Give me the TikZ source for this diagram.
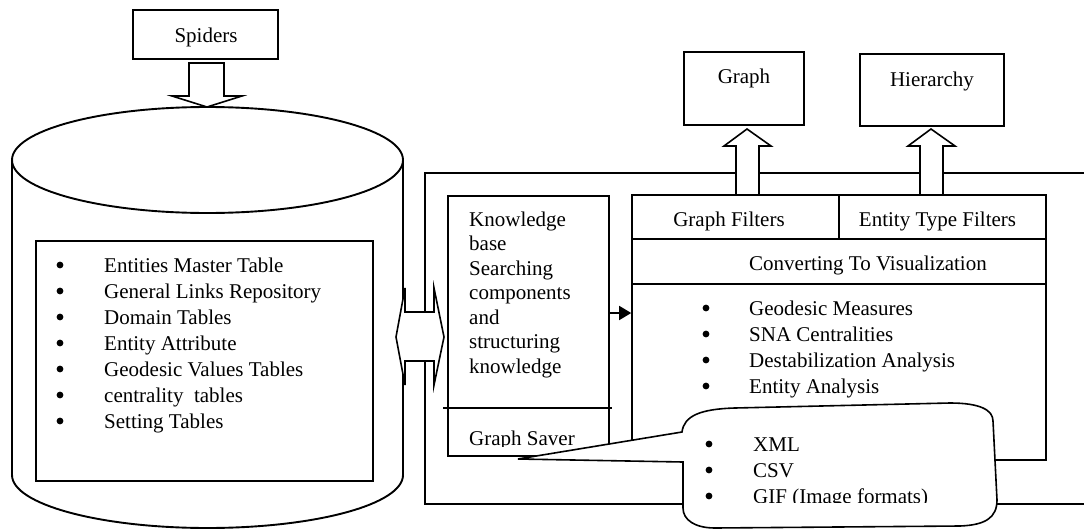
\documentclass[tikz,border=0pt]{standalone}
\usepackage{fontspec}
\setmainfont{Liberation Serif}
\usetikzlibrary{arrows.meta}

\begin{document}
\begin{tikzpicture}[x=1pt,y=-1pt,
  every node/.style={font=\fontsize{21pt}{26pt}\selectfont, inner sep=0pt},
  line/.style={line width=1.6pt},
  cyl/.style={line width=1.9pt},
  box/.style={draw, line width=1.6pt, minimum width=#1},
  txt/.style={anchor=base west},
  ctxt/.style={anchor=base},
  blockarrow/.style={line width=1.6pt, fill=white, line join=miter},
  item/.style={anchor=base west},
  dot/.style={fill=black},
]
\useasboundingbox (0,0) rectangle (1084,530);

% outer frame of the application layer (open to the right)
\draw[line] (1084,173) -- (425,173) -- (425,504) -- (1084,504);

% database cylinder
\draw[cyl] (12,160) -- (12,475)
  arc[start angle=180, end angle=0, x radius=195.5, y radius=53] -- (403,160);
\draw[cyl] (207.5,160) ellipse[x radius=195.5, y radius=53];

% table list inside the database
\node[box=337pt, minimum height=240pt] (tables) at (204.5,361) {};
\foreach \t [count=\i] in {{Entities Master Table},{General Links Repository},
    {Domain Tables},{Entity Attribute},{Geodesic Values Tables},
    {centrality\ \ tables},{Setting Tables}}{
  \fill[dot] (60,239+26*\i) circle (3.4pt);
  \node[item] (db\i) at (104,246+26*\i) {\t};
}

% spiders feeding the database
\node[box=145pt, minimum height=49pt] (spiders) at (205.5,34.5) {};
\node[ctxt] (spiderstxt) at (206,42) {Spiders};
\draw[blockarrow] (189,63) -- (224,63) -- (224,96) -- (242,96) -- (207,107)
  -- (172,96) -- (189,96) -- cycle;

% knowledge base component
\node[box=161pt, minimum height=260pt] (kb) at (528.5,326) {};
\foreach \t [count=\i] in {Knowledge,base,Searching,components,and,structuring,knowledge}
  \node[txt] (kb\i) at (469,201.5+24.5*\i) {\t};
\draw[line] (443,408) -- (612,408);
\begin{scope}
  \clip (448,409) rectangle (609,446);
  \node[txt] (saver) at (469,445) {Graph Saver};
\end{scope}

% visualization component
\node[box=414pt, minimum height=265pt] (vis) at (839,327.5) {};
\draw[line] (632,239) -- (1046,239);
\draw[line] (632,284) -- (1046,284);
\draw[line] (839,195) -- (839,239);
\node[ctxt] (gfilt) at (729,226) {Graph Filters};
\node[ctxt] (efilt) at (937.5,226) {Entity Type Filters};
\node[txt] (conv) at (749,270) {Converting To Visualization};
\foreach \t [count=\i] in {{Geodesic Measures},{SNA Centralities},
    {Destabilization Analysis},{Entity Analysis}}{
  \fill[dot] (706,282+26*\i) circle (3.4pt);
  \node[item] (an\i) at (749,289+26*\i) {\t};
}

\draw[line, -{Triangle[length=12pt,width=14pt]}]
  ([yshift=13pt]kb.east) -- ([yshift=13pt]kb.east -| vis.west);

% output views
\node[box=120pt, minimum height=73pt] (graph) at (744,88.5) {};
\node[ctxt] (graphtxt) at (744,83) {Graph};
\node[box=144pt, minimum height=72pt] (hier) at (932,90) {};
\node[ctxt] (hiertxt) at (932,86) {Hierarchy};
\draw[blockarrow] (736,195) -- (736,146) -- (724,146) -- (747,129) -- (771,146)
  -- (759,146) -- (759,195) -- cycle;
\draw[blockarrow] (920,195) -- (920,146) -- (908,146) -- (931,129) -- (955,146)
  -- (943,146) -- (943,195) -- cycle;

% two-way exchange between database and application
\draw[blockarrow] (405,312) -- (405,288) -- (396,337) -- (405,385) -- (405,361)
  -- (434,361) -- (434,385) -- (444,337) -- (434,288) -- (434,312) -- cycle;

% export formats callout
\draw[line, fill=white, line join=miter]
  (682,432) .. controls (684,416) and (700,409) .. (735,408)
  -- (950,403) .. controls (980,403) and (993,410) .. (993,421)
  -- (997,500) .. controls (997,518) and (985,525) .. (960,526)
  -- (715,528) .. controls (695,528) and (683,520) .. (683,508)
  -- (683,462) -- (518,459) -- cycle;
\begin{scope}
  \clip (690,410) rectangle (990,502);
  \foreach \t [count=\i] in {XML,CSV,{GIF (Image formats)}}{
    \fill[dot] (709,418+26*\i) circle (3.4pt);
    \node[item] (fmt\i) at (753,425+26*\i) {\t};
  }
\end{scope}
\end{tikzpicture}
\end{document}
